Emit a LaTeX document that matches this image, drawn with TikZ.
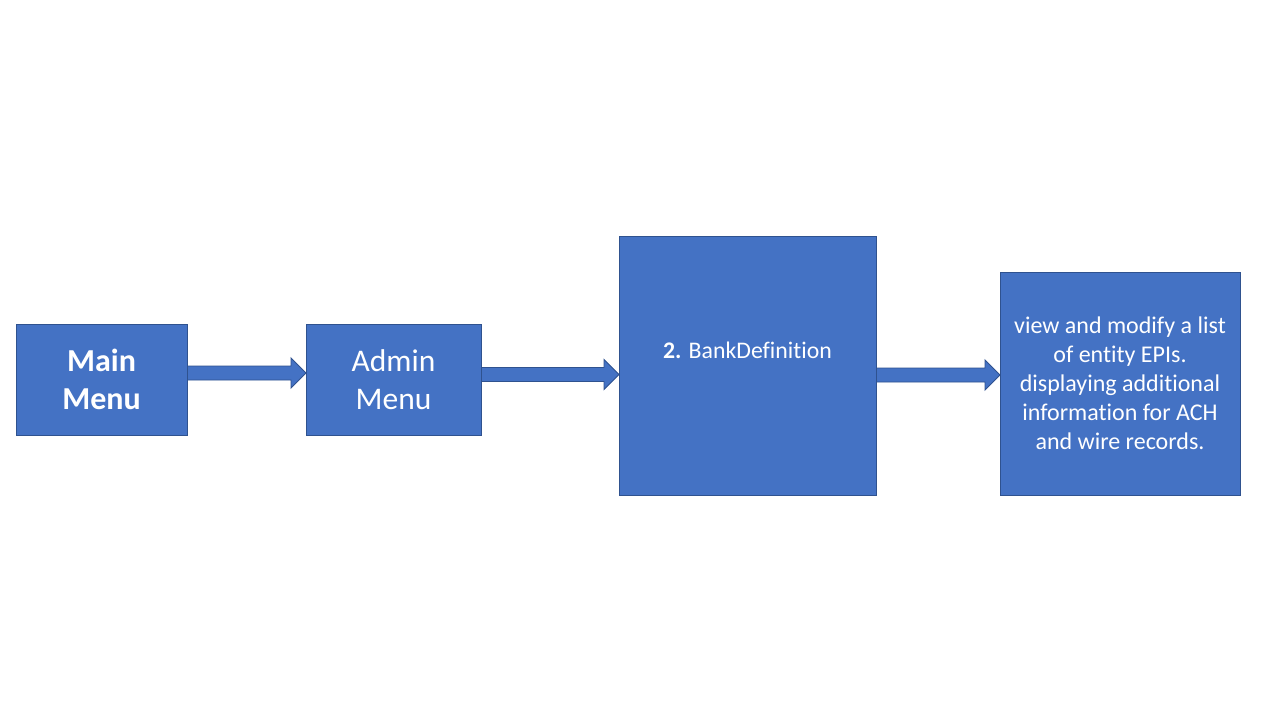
\documentclass[tikz,border=0pt]{standalone}
\usepackage{fontspec}
\setmainfont{Carlito}[Ligatures=NoCommon]
\usetikzlibrary{calc}
\definecolor{boxfill}{HTML}{4472C4}
\definecolor{boxline}{HTML}{2F528F}
\tikzset{
  box/.style={draw=boxline, fill=boxfill, line width=0.9pt, text=white, align=center, inner sep=0pt},
  arrowstyle/.style={draw=boxline, fill=boxfill, line width=0.9pt, line join=miter},
}
\newcommand\blockarrow[2]{%
  \draw[arrowstyle] ($(#1)+(0,-7)$) -- ($(#2)+(-15,-7)$) -- ($(#2)+(-15,-15)$) -- (#2)
    -- ($(#2)+(-15,15)$) -- ($(#2)+(-15,7)$) -- ($(#1)+(0,7)$) -- cycle;}
\begin{document}
\begin{tikzpicture}[x=1pt,y=-1pt]
\useasboundingbox[fill=white] (0,0) rectangle (1280,720);
\node[box, minimum width=171pt, minimum height=111pt,
  font=\fontsize{32}{38}\selectfont\bfseries] (main) at (101.5,379.5) {Main\\Menu};
\node[box, minimum width=175pt, minimum height=111pt,
  font=\fontsize{31.5}{38}\selectfont] (admin) at (393.5,379.5) {Admin\\Menu};
\node[box, minimum width=257pt, minimum height=259pt] (bank) at (747.5,365.5) {};
\node[text=white, font=\fontsize{23.8}{28}\selectfont, inner sep=0pt] (banklabel) at ($(bank.north)+(0,114.5)$) {\textbf{2.} BankDefinition};
\node[box, minimum width=240pt, minimum height=223pt,
  font=\fontsize{24}{29}\selectfont] (desc) at (1120,383.5)
  {view and modify a list\\of entity EPIs.\\displaying additional\\information for ACH\\and wire records.};
\coordinate (t1) at (306,373);
\coordinate (t2) at (619,374.5);
\coordinate (t3) at (1000,375);
\coordinate (s1) at (main.east |- t1);
\coordinate (s2) at (admin.east |- t2);
\coordinate (s3) at (bank.east |- t3);
\blockarrow{s1}{t1}
\blockarrow{s2}{t2}
\blockarrow{s3}{t3}
\end{tikzpicture}
\end{document}
